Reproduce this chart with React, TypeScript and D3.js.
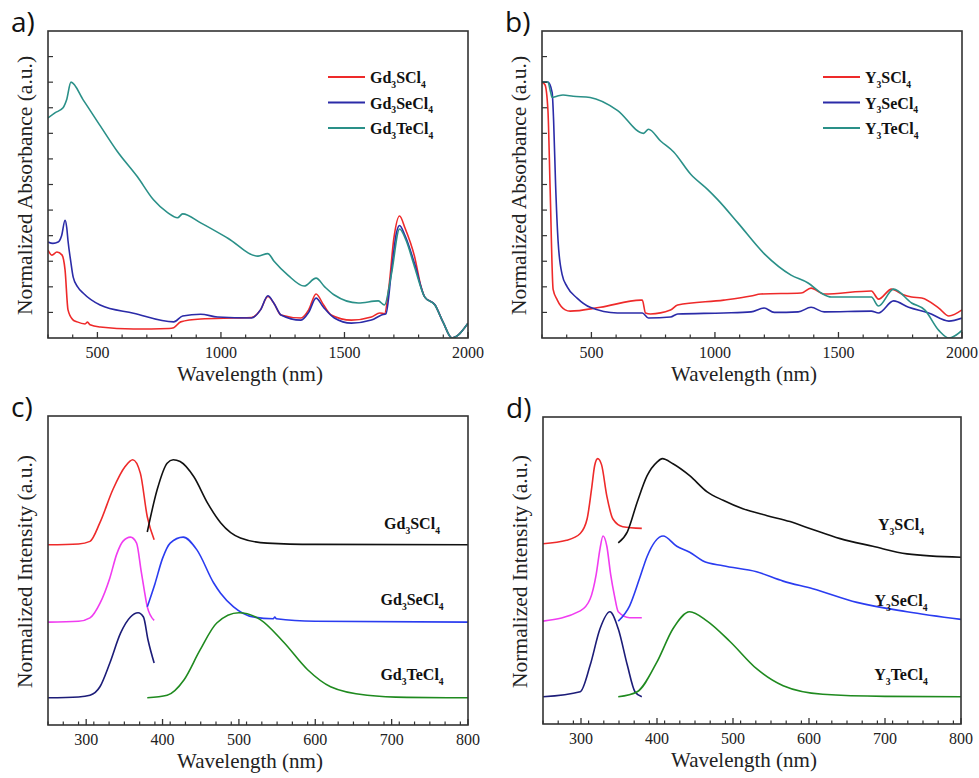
import React from "react";
import * as d3 from "d3";

// ---------- DATA ----------
// Panel a: absorbance (wavelength nm, normalized absorbance units)
const gdS_abs: [number, number][] = [[300,3.44],[316,3.24],[336,3.36],[357,3.24],[369,2.66],[381,1.1],[400,0.72],[418,0.63],[450,0.55],[460,0.62],[470,0.52],[511,0.43],[646,0.35],[790,0.37],[809,0.4],[837,0.63],[918,0.74],[1052,0.78],[1124,0.8],[1160,1.1],[1190,1.62],[1215,1.35],[1243,0.9],[1324,0.78],[1355,1.1],[1385,1.72],[1415,1.3],[1446,0.9],[1528,0.7],[1609,0.82],[1643,0.98],[1662,0.95],[1680,2.0],[1700,3.9],[1723,4.77],[1745,4.3],[1784,3.17],[1810,2.0],[1825,1.6],[1866,1.3],[1900,0.6],[1935,0],[2000,0.58]];
const gdSe_abs: [number, number][] = [[300,3.75],[320,3.7],[341,3.75],[355,4.0],[369,4.6],[376,4.3],[381,3.8],[392,3.0],[402,2.38],[420,2.0],[443,1.75],[511,1.29],[646,0.97],[809,0.63],[845,0.86],[918,0.93],[986,0.82],[1124,0.78],[1160,1.1],[1190,1.65],[1215,1.35],[1243,0.9],[1324,0.7],[1355,1.0],[1385,1.56],[1415,1.2],[1459,0.78],[1528,0.58],[1609,0.7],[1650,0.9],[1668,0.95],[1690,2.6],[1710,4.1],[1723,4.4],[1745,4.0],[1784,2.9],[1825,1.6],[1866,1.3],[1900,0.6],[1935,0],[2000,0.58]];
const gdTe_abs: [number, number][] = [[300,8.6],[328,8.8],[361,9.0],[375,9.3],[393,10.0],[443,9.3],[511,8.3],[580,7.3],[662,6.3],[727,5.4],[784,4.9],[824,4.7],[845,4.85],[918,4.5],[1028,3.9],[1150,3.2],[1190,3.3],[1215,3.0],[1271,2.46],[1337,2.03],[1385,2.34],[1420,2.0],[1459,1.68],[1556,1.37],[1637,1.45],[1662,1.29],[1690,2.5],[1723,4.26],[1750,3.8],[1784,2.77],[1825,1.6],[1866,1.29],[1900,0.6],[1935,0],[2000,0.58]];

// Panel b: absorbance
const yS_abs: [number, number][] = [[300,10],[312,9.9],[324,8.9],[333,5.8],[345,1.9],[361,1.5],[394,1.1],[414,1.05],[536,1.2],[700,1.48],[706,1.48],[719,0.98],[739,0.94],[820,1.09],[849,1.29],[1036,1.48],[1146,1.64],[1186,1.72],[1349,1.76],[1389,1.95],[1442,1.72],[1633,1.84],[1662,1.52],[1715,1.91],[1760,1.7],[1796,1.6],[1837,1.56],[1906,1.17],[1947,0.86],[2000,1.1]];
const ySe_abs: [number, number][] = [[300,10],[324,10],[341,9.6],[347,8.5],[355,6.0],[365,3.8],[381,2.5],[402,2.0],[442,1.56],[495,1.2],[605,0.98],[706,0.98],[731,0.78],[820,0.82],[849,0.94],[1036,0.98],[1146,1.02],[1199,1.17],[1240,1.0],[1337,1.02],[1389,1.2],[1442,1.02],[1633,1.05],[1662,0.98],[1723,1.45],[1784,1.2],[1865,0.98],[1947,0.66],[2000,0.78]];
const yTe_abs: [number, number][] = [[300,10],[324,10],[335,9.6],[341,9.4],[360,9.45],[385,9.5],[426,9.45],[495,9.4],[605,8.9],[711,8.0],[731,8.16],[780,7.7],[833,7.27],[902,6.4],[971,5.8],[1012,5.4],[1093,4.5],[1199,3.3],[1308,2.46],[1377,2.15],[1430,1.76],[1471,1.6],[1633,1.6],[1662,1.25],[1723,1.91],[1796,1.37],[1849,1.1],[1906,0.3],[1947,0],[2000,0.3]];

// Panel c: PLE / PL (normalized intensity, stacked by offsets)
const gdS_ex: [number, number][] = [[250,0],[290,0.01],[305,0.04],[318,0.26],[335,0.65],[351,0.92],[361,1.0],[371,0.84],[380,0.33],[389,0.06]];
const gdS_em: [number, number][] = [[380,0.15],[393,0.65],[406,0.96],[414,1.0],[423,0.98],[441,0.8],[459,0.49],[476,0.26],[502,0.08],[537,0.02],[600,0.005],[800,0]];
const gdSe_ex: [number, number][] = [[250,0],[290,0.01],[305,0.05],[318,0.22],[331,0.52],[340,0.8],[348,0.95],[358,1.0],[366,0.93],[372,0.6],[376,0.38],[380,0.18],[389,0.02]];
const gdSe_em: [number, number][] = [[380,0.18],[390,0.45],[400,0.75],[410,0.93],[427,1.0],[445,0.85],[467,0.46],[476,0.34],[493,0.18],[519,0.06],[545,0.04],[547,0.06],[549,0.04],[600,0.01],[800,0]];
const gdTe_ex: [number, number][] = [[250,0],[290,0.01],[305,0.03],[318,0.13],[331,0.41],[345,0.76],[358,0.95],[368,1.0],[375,0.95],[381,0.68],[389,0.41]];
const gdTe_em: [number, number][] = [[380,0],[406,0.03],[428,0.21],[449,0.56],[471,0.88],[500,1.0],[528,0.92],[559,0.65],[590,0.33],[620,0.13],[668,0.03],[720,0.005],[800,0]];

// Panel d
const yS_ex: [number, number][] = [[250,0],[281,0.04],[299,0.12],[308,0.29],[314,0.65],[318,0.92],[322,1.0],[327,0.93],[334,0.56],[342,0.29],[355,0.2],[380,0.18]];
const yS_em: [number, number][] = [[349,0.01],[361,0.14],[374,0.49],[387,0.8],[400,0.96],[407,1.0],[421,0.94],[443,0.8],[466,0.61],[487,0.51],[513,0.41],[545,0.33],[575,0.26],[601,0.18],[641,0.06],[684,-0.03],[729,-0.12],[800,-0.16]];
const ySe_ex: [number, number][] = [[250,0],[299,0.12],[312,0.26],[320,0.55],[325,0.85],[329,1.0],[334,0.88],[339,0.55],[344,0.3],[349,0.11],[364,0.04],[380,0.04]];
const ySe_em: [number, number][] = [[349,0],[364,0.18],[377,0.5],[387,0.76],[408,1.0],[426,0.88],[443,0.81],[460,0.71],[487,0.65],[531,0.58],[566,0.47],[605,0.38],[663,0.22],[729,0.11],[800,0.02]];
const yTe_ex: [number, number][] = [[250,0],[299,0.06],[312,0.37],[325,0.8],[338,1.0],[349,0.8],[361,0.37],[371,0.06],[380,0]];
const yTe_em: [number, number][] = [[349,0],[374,0.06],[400,0.41],[421,0.8],[443,1.0],[466,0.89],[496,0.65],[531,0.33],[566,0.13],[618,0.03],[700,0.005],[800,0]];

const stackOffsets = [2.12, 1.21, 0.32];
const gdNames = ["Gd3SCl4", "Gd3SeCl4", "Gd3TeCl4"];
const yNames = ["Y3SCl4", "Y3SeCl4", "Y3TeCl4"];
const absTicks = [500, 1000, 1500, 2000];
const plTicks = [300, 400, 500, 600, 700, 800];

const RED = "#ee2a2a";
const BLUE = "#2b2ba8";
const TEAL = "#2a9088";
const BLACK = "#111111";
const MAGENTA = "#f03cf0";
const BRIGHTBLUE = "#2a3cf0";
const NAVY = "#1c1c78";
const GREEN = "#1f8a1f";

const SERIF = "Liberation Serif";
const SANS = "Open Sans";

function Chem({ name, x, y, size, anchor }: { name: string; x: number; y: number; size: number; anchor?: string }) {
  const parts = name.match(/[A-Za-z]+|\d+/g) || [];
  let sub = false;
  return (
    <text x={x} y={y} fontFamily={SERIF} fontWeight={700} fontSize={size} textAnchor={anchor || "start"} fill="#111">
      {parts.map((p, i) => {
        const isNum = /\d/.test(p);
        let dy = 0;
        if (isNum && !sub) { dy = size * 0.3; sub = true; }
        else if (!isNum && sub) { dy = -size * 0.3; sub = false; }
        return (
          <tspan key={i} dy={dy} fontSize={isNum ? size * 0.6 : size}>{p}</tspan>
        );
      })}
    </text>
  );
}

type Series = { data: [number, number][]; color: string; offset?: number };

function Panel(props: {
  id: string; left: number; top: number; right: number; bottom: number;
  xDomain: [number, number]; yDomain: [number, number];
  major: number[]; minorStep: number; yTicks: number[];
  series: Series[]; yTitle: string; letter: string;
  legend?: { names: string[]; colors: string[]; x: number; y: number };
  labels?: { names: string[]; x: number; ys: number[] };
}) {
  const { left, top, right, bottom } = props;
  const x = d3.scaleLinear().domain(props.xDomain).range([left, right]);
  const y = d3.scaleLinear().domain(props.yDomain).range([bottom, top]);
  const minor = d3.range(props.xDomain[0], props.xDomain[1] + 0.001, props.minorStep).filter((v) => !props.major.includes(v));
  const clipId = "clip-" + props.id;
  return (
    <g>
      <defs>
        <clipPath id={clipId}>
          <rect x={left} y={top} width={right - left} height={bottom - top} />
        </clipPath>
      </defs>
      <g clipPath={`url(#${clipId})`}>
        {props.series.map((s, i) => {
          const off = s.offset || 0;
          const line = d3.line<[number, number]>().x((d) => x(d[0])).y((d) => y(d[1] + off)).curve(d3.curveMonotoneX);
          return <path key={i} d={line(s.data) || ""} fill="none" stroke={s.color} strokeWidth={1.6} strokeLinejoin="round" />;
        })}
      </g>
      <rect x={left} y={top} width={right - left} height={bottom - top} fill="none" stroke="#333" strokeWidth={1.6} />
      {props.major.map((v) => (
        <g key={"M" + v}>
          <line x1={x(v)} x2={x(v)} y1={bottom} y2={bottom - 6} stroke="#333" strokeWidth={1.3} />
          <text x={x(v)} y={bottom + 20} textAnchor="middle" fontFamily={SERIF} fontSize={16} fill="#222">{v}</text>
        </g>
      ))}
      {minor.map((v) => (
        <line key={"m" + v} x1={x(v)} x2={x(v)} y1={bottom} y2={bottom - 3.5} stroke="#333" strokeWidth={1.2} />
      ))}
      {props.yTicks.map((v) => (
        <line key={"y" + v} x1={left} x2={left + 5} y1={y(v)} y2={y(v)} stroke="#333" strokeWidth={1.2} />
      ))}
      <text x={(left + right) / 2 - 8} y={bottom + 43} textAnchor="middle" fontFamily={SERIF} fontSize={21} fill="#222">Wavelength (nm)</text>
      <text transform={`translate(${left - 16},${(top + bottom) / 2 + 1}) rotate(-90)`} textAnchor="middle" fontFamily={SERIF} fontSize={21.5} fill="#222">{props.yTitle}</text>
      <text x={left - 37} y={top + 1} fontFamily={SANS} fontSize={28} fill="#111">{props.letter}</text>
      {props.legend && props.legend.names.map((n, i) => (
        <g key={"lg" + i}>
          <line x1={props.legend!.x} x2={props.legend!.x + 37} y1={props.legend!.y + i * 25.5} y2={props.legend!.y + i * 25.5} stroke={props.legend!.colors[i]} strokeWidth={1.8} />
          <Chem name={n} x={props.legend!.x + 42} y={props.legend!.y + i * 25.5 + 6} size={16} />
        </g>
      ))}
      {props.labels && props.labels.names.map((n, i) => (
        <Chem key={"lb" + i} name={n} x={props.labels!.x} y={props.labels!.ys[i]} size={16} anchor="middle" />
      ))}
    </g>
  );
}

export default function App() {
  const absY = d3.range(1, 12);
  return (
    <svg width={979} height={778} style={{ position: "absolute", left: 0, top: 0, background: "#fff" }}>
      <rect x={0} y={0} width={979} height={778} fill="#fff" />
      <Panel id="a" left={48} top={31} right={468} bottom={338} xDomain={[300, 2000]} yDomain={[0, 12]}
        major={absTicks} minorStep={100} yTicks={absY} letter="a)" yTitle="Normalized Absorbance (a.u.)"
        series={[{ data: gdS_abs, color: RED }, { data: gdSe_abs, color: BLUE }, { data: gdTe_abs, color: TEAL }]}
        legend={{ names: gdNames, colors: [RED, BLUE, TEAL], x: 328, y: 77 }} />
      <Panel id="b" left={542} top={31} right={962} bottom={338} xDomain={[300, 2000]} yDomain={[0, 12]}
        major={absTicks} minorStep={100} yTicks={absY} letter="b)" yTitle="Normalized Absorbance (a.u.)"
        series={[{ data: yS_abs, color: RED }, { data: ySe_abs, color: BLUE }, { data: yTe_abs, color: TEAL }]}
        legend={{ names: yNames, colors: [RED, BLUE, TEAL], x: 823, y: 77 }} />
      <Panel id="c" left={48} top={416} right={468} bottom={725} xDomain={[250, 800]} yDomain={[0, 3.635]}
        major={plTicks} minorStep={20} yTicks={[]} letter="c)" yTitle="Normalized Intensity (a.u.)"
        series={[
          { data: gdS_ex, color: RED, offset: stackOffsets[0] }, { data: gdS_em, color: BLACK, offset: stackOffsets[0] },
          { data: gdSe_ex, color: MAGENTA, offset: stackOffsets[1] }, { data: gdSe_em, color: BRIGHTBLUE, offset: stackOffsets[1] },
          { data: gdTe_ex, color: NAVY, offset: stackOffsets[2] }, { data: gdTe_em, color: GREEN, offset: stackOffsets[2] },
        ]}
        labels={{ names: gdNames, x: 412, ys: [529, 605, 680] }} />
      <Panel id="d" left={543} top={417} right={961} bottom={724} xDomain={[250, 800]} yDomain={[0, 3.61]}
        major={plTicks} minorStep={20} yTicks={[]} letter="d)" yTitle="Normalized Intensity (a.u.)"
        series={[
          { data: yS_ex, color: RED, offset: stackOffsets[0] }, { data: yS_em, color: BLACK, offset: stackOffsets[0] },
          { data: ySe_ex, color: MAGENTA, offset: stackOffsets[1] }, { data: ySe_em, color: BRIGHTBLUE, offset: stackOffsets[1] },
          { data: yTe_ex, color: NAVY, offset: stackOffsets[2] }, { data: yTe_em, color: GREEN, offset: stackOffsets[2] },
        ]}
        labels={{ names: yNames, x: 901, ys: [530, 606, 680] }} />
    </svg>
  );
}
